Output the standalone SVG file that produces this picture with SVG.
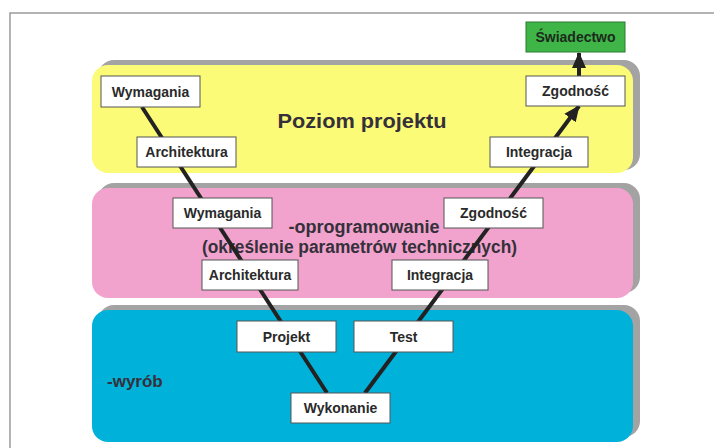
<svg xmlns="http://www.w3.org/2000/svg" width="714" height="448" viewBox="0 0 714 448">
<defs>
<style>
.frame{fill:none;stroke:#9a9a9a;stroke-width:1.5}
.shadow{fill:#a3a3a3}
.box{fill:#ffffff;stroke:#555555;stroke-width:1}
.lbl{font-family:"Liberation Sans",Arial,sans-serif;font-weight:bold;font-size:14px;fill:#2a2a2a;text-anchor:middle}
.band{font-family:"Liberation Sans",Arial,sans-serif;font-weight:bold;fill:#35303a}
.conn{stroke:#222222;stroke-width:4;fill:none}
</style>
<marker id="arrow" markerUnits="userSpaceOnUse" markerWidth="16" markerHeight="16" viewBox="0 0 16 16" refX="15" refY="8" orient="auto">
<path d="M0,1 L16,8 L0,15 Z" fill="#222222"/>
</marker>
</defs>
<rect width="714" height="448" fill="#ffffff"/>
<path class="frame" d="M10,448 L10,13 L714,13"/>

<g id="band-projekt">
<rect class="shadow" x="98" y="60" width="542" height="110" rx="16"/>
<rect x="92" y="65" width="541" height="108" rx="16" fill="#fbfb78"/>
<text class="band" x="362" y="128" font-size="21" text-anchor="middle" textLength="169" lengthAdjust="spacingAndGlyphs">Poziom projektu</text>
</g>
<g id="band-oprogramowanie">
<rect class="shadow" x="98" y="183" width="542" height="110" rx="16"/>
<rect x="92" y="188" width="541" height="110" rx="16" fill="#f2a3cd"/>
<text class="band" x="364" y="233" font-size="18" text-anchor="middle">-oprogramowanie</text>
<text class="band" x="359.5" y="253" font-size="18" text-anchor="middle" textLength="315" lengthAdjust="spacingAndGlyphs">(określenie parametrów technicznych)</text>
</g>
<g id="band-wyrob">
<rect class="shadow" x="98" y="305" width="542" height="132" rx="16"/>
<rect x="92" y="310" width="541" height="132" rx="16" fill="#00b2d9"/>
<text class="band" x="107" y="387" font-size="17">-wyrób</text>
</g>

<g id="connectors">
<line class="conn" x1="142" y1="107" x2="327" y2="393"/>
<line class="conn" x1="365" y1="393" x2="579" y2="106" marker-end="url(#arrow)"/>
<line class="conn" x1="579" y1="76" x2="579" y2="53" marker-end="url(#arrow)"/>
</g>

<g id="swiadectwo">
<rect x="526" y="22" width="99" height="30" fill="#3fb548" stroke="#2b7a30" stroke-width="1"/>
<text class="lbl" x="575.5" y="42" fill="#1c2a1c" style="fill:#1c2a1c">Świadectwo</text>
</g>
<g id="wymagania-projekt">
<rect class="box" x="101" y="76" width="99" height="31"/>
<text class="lbl" x="150.5" y="96.5">Wymagania</text>
</g>
<g id="architektura-projekt">
<rect class="box" x="137" y="137" width="99" height="30"/>
<text class="lbl" x="186.5" y="157">Architektura</text>
</g>
<g id="zgodnosc-projekt">
<rect class="box" x="526" y="76" width="99" height="30"/>
<text class="lbl" x="575.5" y="96">Zgodność</text>
</g>
<g id="integracja-projekt">
<rect class="box" x="490" y="137" width="98" height="30"/>
<text class="lbl" x="539" y="157">Integracja</text>
</g>
<g id="wymagania-oprog">
<rect class="box" x="173" y="198" width="99" height="30"/>
<text class="lbl" x="222.5" y="218">Wymagania</text>
</g>
<g id="zgodnosc-oprog">
<rect class="box" x="444" y="198" width="99" height="30"/>
<text class="lbl" x="493.5" y="218">Zgodność</text>
</g>
<g id="architektura-oprog">
<rect class="box" x="202" y="260" width="96" height="30"/>
<text class="lbl" x="250" y="280">Architektura</text>
</g>
<g id="integracja-oprog">
<rect class="box" x="392" y="260" width="96" height="30"/>
<text class="lbl" x="440" y="280">Integracja</text>
</g>
<g id="projekt">
<rect class="box" x="237" y="321" width="99" height="31"/>
<text class="lbl" x="286.5" y="341.5">Projekt</text>
</g>
<g id="test">
<rect class="box" x="354" y="321" width="99" height="31"/>
<text class="lbl" x="403.5" y="341.5">Test</text>
</g>
<g id="wykonanie">
<rect class="box" x="291" y="393" width="99" height="30"/>
<text class="lbl" x="340.5" y="413">Wykonanie</text>
</g>
</svg>
